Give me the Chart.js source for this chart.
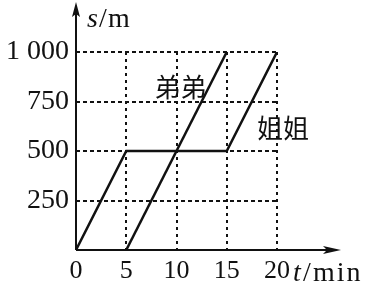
<!DOCTYPE html>
<html>
<head>
<meta charset="utf-8">
<script src="https://cdn.jsdelivr.net/npm/chart.js@4/dist/chart.umd.min.js"></script>
<style>
  html, body { margin: 0; padding: 0; background: #fff; }
  #wrap { width: 377px; height: 286px; position: relative; }
</style>
</head>
<body>
<div id="wrap"><canvas id="c"></canvas></div>
<script>
// distance-time data, t in min, s in m
const sisterT = [0, 5, 15, 20];
const sisterS = [0, 500, 500, 1000];
const brotherT = [5, 15];
const brotherS = [0, 1000];

const xTicks = [0, 5, 10, 15, 20];
const yTicks = [250, 500, 750, 1000];
const yTickText = ['250', '500', '750', '1 000'];

// where the two names sit, in data units
const nameLabels = [
    { text: '弟弟', t: 10.4, s: 825 },
    { text: '姐姐', t: 20.6, s: 615 }
];

const ink = '#111';
const serif = '"Liberation Serif", "DejaVu Serif", serif';

function toPoints(ts, ss) {
    return ts.map((t, i) => ({ x: t, y: ss[i] }));
}

// draws text pieces at given x, same baseline
function pieces(ctx, parts, y) {
    parts.forEach(p => {
        ctx.font = (p.italic ? 'italic ' : '') + '28px ' + serif;
        ctx.letterSpacing = (p.spacing || 0) + 'px';
        ctx.fillText(p.text, p.x, y);
    });
    ctx.letterSpacing = '0px';
}

const decorPlugin = {
    id: 'decor',
    afterDraw(chart) {
        const ctx = chart.ctx;
        const xs = chart.scales.x;
        const ys = chart.scales.y;
        const ox = xs.getPixelForValue(0);
        const oy = ys.getPixelForValue(0);

        ctx.save();
        ctx.strokeStyle = ink;
        ctx.fillStyle = ink;
        ctx.lineWidth = 2;

        // axes with arrows
        ctx.beginPath();
        ctx.moveTo(ox, oy);
        ctx.lineTo(ox, 10);
        ctx.moveTo(ox, oy);
        ctx.lineTo(333, oy);
        ctx.stroke();

        ctx.beginPath();
        ctx.moveTo(ox, 2);
        ctx.lineTo(ox - 4, 17);
        ctx.lineTo(ox, 14);
        ctx.lineTo(ox + 4, 17);
        ctx.closePath();
        ctx.fill();

        ctx.beginPath();
        ctx.moveTo(341, oy);
        ctx.lineTo(323, oy - 4);
        ctx.lineTo(327, oy);
        ctx.lineTo(323, oy + 4);
        ctx.closePath();
        ctx.fill();

        // axis titles
        ctx.textBaseline = 'alphabetic';
        ctx.textAlign = 'left';
        pieces(ctx, [
            { text: 's', x: 87, italic: true },
            { text: '/', x: 99 },
            { text: 'm', x: 108 }
        ], 27);
        pieces(ctx, [
            { text: 't', x: 293, italic: true },
            { text: '/', x: 303 },
            { text: 'min', x: 313, spacing: 2 }
        ], 281);

        // line names
        ctx.font = '26px "Noto Sans CJK SC", sans-serif';
        ctx.textAlign = 'center';
        ctx.textBaseline = 'middle';
        nameLabels.forEach(l => {
            ctx.fillText(l.text, xs.getPixelForValue(l.t), ys.getPixelForValue(l.s));
        });
        ctx.restore();
    }
};

new Chart(document.getElementById('c'), {
    type: 'scatter',
    data: {
        datasets: [
            {
                label: '姐姐',
                data: toPoints(sisterT, sisterS),
                showLine: true,
                borderColor: ink,
                borderWidth: 2.5,
                pointRadius: 0,
                tension: 0
            },
            {
                label: '弟弟',
                data: toPoints(brotherT, brotherS),
                showLine: true,
                borderColor: ink,
                borderWidth: 2.5,
                pointRadius: 0,
                tension: 0
            }
        ]
    },
    options: {
        responsive: true,
        maintainAspectRatio: false,
        animation: false,
        events: [],
        layout: { padding: { top: 52, right: 100, left: 0, bottom: 0 } },
        plugins: { legend: { display: false }, tooltip: { enabled: false } },
        scales: {
            x: {
                type: 'linear',
                min: 0,
                max: 20,
                afterBuildTicks: s => { s.ticks = xTicks.map(v => ({ value: v })); },
                afterFit: s => { s.height = 36; },
                grid: { color: ink, lineWidth: 2, drawTicks: false },
                border: { display: false, dash: [3, 4] },
                ticks: {
                    color: ink,
                    padding: 6,
                    maxRotation: 0,
                    font: { family: serif, size: 26 }
                }
            },
            y: {
                type: 'linear',
                min: 0,
                max: 1000,
                afterBuildTicks: s => { s.ticks = yTicks.map(v => ({ value: v })); },
                afterFit: s => { s.width = 76; },
                grid: { color: ink, lineWidth: 2, drawTicks: false },
                border: { display: false, dash: [4, 3] },
                ticks: {
                    color: ink,
                    padding: 7,
                    font: { family: serif, size: 28 },
                    callback: v => yTickText[yTicks.indexOf(v)]
                }
            }
        }
    },
    plugins: [decorPlugin]
});
</script>
</body>
</html>
